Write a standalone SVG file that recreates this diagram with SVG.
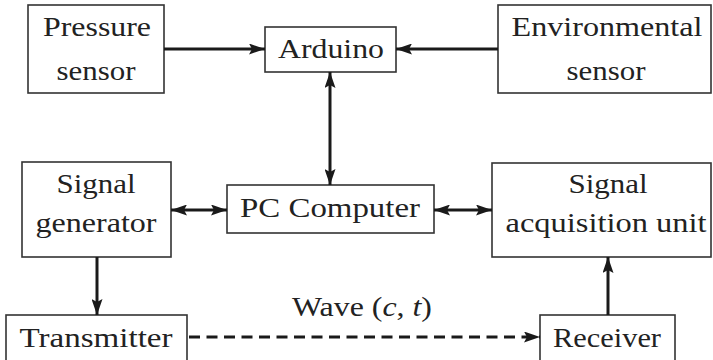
<svg xmlns="http://www.w3.org/2000/svg" width="713" height="360" viewBox="0 0 713 360" font-family="Liberation Serif, DejaVu Serif, Times New Roman, serif">
<defs>
<marker id="ah" markerUnits="userSpaceOnUse" markerWidth="16" markerHeight="11" refX="16" refY="5.5" orient="auto-start-reverse">
<path d="M0,0 L16,5.5 L0,11 L3,5.5 z" fill="#1a1a1a"/>
</marker>
</defs>
<style>
.box{fill:#fff;stroke:#333;stroke-width:1.6}
text{font-family:"Liberation Serif","DejaVu Serif","Times New Roman",serif;font-size:28px;fill:#222;text-anchor:middle}
.c{stroke:#1a1a1a;stroke-width:3;fill:none}
.d{stroke:#1a1a1a;stroke-width:3;fill:none;stroke-dasharray:11 6.5}
</style>
<rect width="713" height="360" fill="#fff"/>
<g id="pressure">
<rect class="box" x="28" y="5" width="136" height="88"/>
<text x="97" y="36" textLength="108" lengthAdjust="spacingAndGlyphs">Pressure</text>
<text x="96" y="80" textLength="79" lengthAdjust="spacingAndGlyphs">sensor</text>
</g>
<g id="arduino">
<rect class="box" x="265" y="27" width="131" height="45"/>
<text x="331" y="58" textLength="106" lengthAdjust="spacingAndGlyphs">Arduino</text>
</g>
<g id="environmental">
<rect class="box" x="498" y="5" width="213" height="88"/>
<text x="607" y="36" textLength="191" lengthAdjust="spacingAndGlyphs">Environmental</text>
<text x="606" y="80" textLength="79" lengthAdjust="spacingAndGlyphs">sensor</text>
</g>
<g id="siggen">
<rect class="box" x="22" y="162" width="149" height="95"/>
<text x="96" y="193" textLength="79" lengthAdjust="spacingAndGlyphs">Signal</text>
<text x="96" y="232" textLength="121" lengthAdjust="spacingAndGlyphs">generator</text>
</g>
<g id="pc">
<rect class="box" x="227" y="185" width="207" height="48"/>
<text x="330" y="217" textLength="180" lengthAdjust="spacingAndGlyphs">PC Computer</text>
</g>
<g id="sigacq">
<rect class="box" x="492" y="163" width="219" height="94"/>
<text x="608" y="193" textLength="79" lengthAdjust="spacingAndGlyphs">Signal</text>
<text x="606" y="232" textLength="201" lengthAdjust="spacingAndGlyphs">acquisition unit</text>
</g>
<g id="transmitter">
<rect class="box" x="6" y="315" width="181" height="50"/>
<text x="96" y="347" textLength="153" lengthAdjust="spacingAndGlyphs">Transmitter</text>
</g>
<g id="receiver">
<rect class="box" x="540" y="315" width="135" height="50"/>
<text x="607" y="347" textLength="108" lengthAdjust="spacingAndGlyphs">Receiver</text>
</g>
<g id="connectors">
<line class="c" x1="164" y1="49" x2="265" y2="49" marker-end="url(#ah)"/>
<line class="c" x1="498" y1="49" x2="396" y2="49" marker-end="url(#ah)"/>
<line class="c" x1="330" y1="72" x2="330" y2="185" marker-start="url(#ah)" marker-end="url(#ah)"/>
<line class="c" x1="171" y1="210" x2="227" y2="210" marker-start="url(#ah)" marker-end="url(#ah)"/>
<line class="c" x1="434" y1="210" x2="492" y2="210" marker-start="url(#ah)" marker-end="url(#ah)"/>
<line class="c" x1="97" y1="257" x2="97" y2="315" marker-end="url(#ah)"/>
<line class="c" x1="608" y1="315" x2="608" y2="257" marker-end="url(#ah)"/>
<line class="d" x1="189" y1="337" x2="540" y2="337" marker-end="url(#ah)"/>
<text x="362" y="316" textLength="140" lengthAdjust="spacingAndGlyphs">Wave (<tspan font-style="italic">c</tspan>, <tspan font-style="italic">t</tspan>)</text>
</g>
</svg>
